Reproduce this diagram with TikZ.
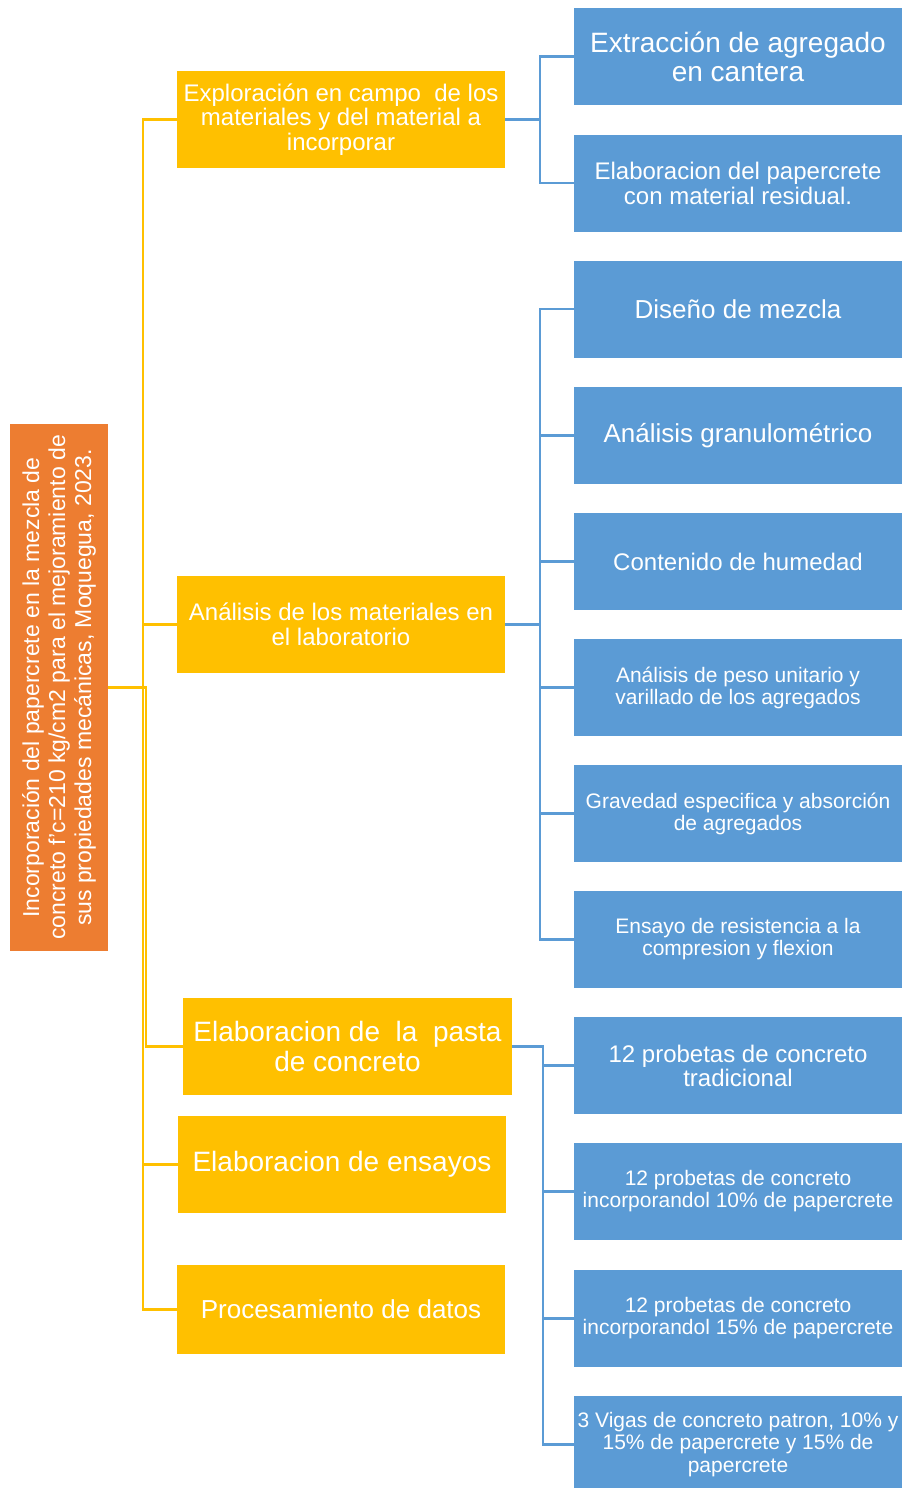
\documentclass[tikz,border=0pt]{standalone}
\usepackage{fontspec}
\setmainfont{Liberation Sans}
\usepackage{tikz}
\definecolor{naranja}{HTML}{ED7D31}
\definecolor{amarillo}{HTML}{FFC000}
\definecolor{azul}{HTML}{5B9BD5}
\newcommand{\tam}[2]{\fontsize{#1}{#2}\selectfont}

\begin{document}
\begin{tikzpicture}[x=1pt,y=-1pt,
  caja/.style={fill=#1, text=white, align=center, inner sep=0pt, minimum width=328pt, minimum height=97pt},
  lamar/.style={amarillo, line width=2.8pt},
  lazul/.style={azul, line width=2.8pt}]
\path [use as bounding box, fill=white] (0,0) rectangle (905,1488);
% raiz (girada: su lado south queda a la derecha)
\node [caja=naranja, rotate=90, minimum width=527pt, minimum height=98pt, font=\tam{23}{26}] (raiz) at (59,687.5)
  {Incorporación del papercrete en la mezcla de\\concreto f'c=210 kg/cm2 para el mejoramiento de\\sus propiedades mecánicas, Moquegua, 2023.};
\node [caja=amarillo, font=\tam{24}{24.5}] (expl) at (341,119.5) {Exploración en campo\ \ de los\\materiales y del material a\\incorporar};
\node [caja=amarillo, font=\tam{24}{25}] (anal) at (341,624.5) {Análisis de los materiales en\\el laboratorio};
\node [caja=amarillo, minimum width=329pt, font=\tam{28}{30}] (past) at (347.5,1046.5) {Elaboracion de\ \ la\ \ pasta\\de concreto};
\node [caja=amarillo, font=\tam{28}{30}] (ensa) at (342,1164.5) {Elaboracion de ensayos};
\node [caja=amarillo, minimum height=89pt, font=\tam{26}{28}] (proc) at (341,1309.5) {Procesamiento de datos};
\node [caja=azul, font=\tam{28}{29}] (extr) at (738,56.5) {Extracción de agregado\\en cantera};
\node [caja=azul, font=\tam{24}{25}] (papc) at (738,183) {Elaboracion del papercrete\\con material residual.};
\node [caja=azul, font=\tam{26}{27}] (dise) at (738,309) {Diseño de mezcla};
\node [caja=azul, font=\tam{26}{27}] (gran) at (738,435.5) {Análisis granulométrico};
\node [caja=azul, font=\tam{24}{25}] (hume) at (738,561.5) {Contenido de humedad};
\node [caja=azul, font=\tam{21}{22}] (peso) at (738,687.5) {Análisis de peso unitario y\\varillado de los agregados};
\node [caja=azul, font=\tam{21}{22}] (grav) at (738,813.5) {Gravedad especifica y absorción\\de agregados};
\node [caja=azul, font=\tam{21}{22}] (resi) at (738,939.5) {Ensayo de resistencia a la\\compresion y flexion};
\node [caja=azul, font=\tam{24}{24}] (trad) at (738,1065.5) {12 probetas de concreto\\tradicional};
\node [caja=azul, font=\tam{21}{22}] (p10) at (738,1191.5) {12 probetas de concreto\\incorporandol 10\% de papercrete};
\node [caja=azul, font=\tam{21}{22}] (p15) at (738,1318.5) {12 probetas de concreto\\incorporandol 15\% de papercrete};
\node [caja=azul, font=\tam{21}{22.5}] (viga) at (738,1444.5) {3 Vigas de concreto patron, 10\% y\\15\% de papercrete y 15\% de\\papercrete};
\coordinate (ty) at (143,0);
\coordinate (tr) at (146,0);
\coordinate (ta) at (540,0);
\coordinate (tb) at (543,0);
\draw [lamar] (expl.west) -| (ty |- proc.west) -- (proc.west);
\draw [lamar] (ty |- anal.west) -- (anal.west);
\draw [lamar] (ty |- ensa.west) -- (ensa.west);
\draw [lamar] (raiz.south) -| (tr |- past.west) -- (past.west);
\draw [lazul] (expl.east) -- (ta |- expl.east);
\draw [lazul] (extr.west) -| (ta |- papc.west) -- (papc.west);
\draw [lazul] (anal.east) -- (ta |- anal.east);
\draw [lazul] (dise.west) -| (ta |- resi.west) -- (resi.west);
\foreach \n in {gran,hume,peso,grav}
  \draw [lazul] (ta |- \n.west) -- (\n.west);
\draw [lazul] (past.east) -| (tb |- viga.west) -- (viga.west);
\foreach \n in {trad,p10,p15}
  \draw [lazul] (tb |- \n.west) -- (\n.west);
\end{tikzpicture}
\end{document}
